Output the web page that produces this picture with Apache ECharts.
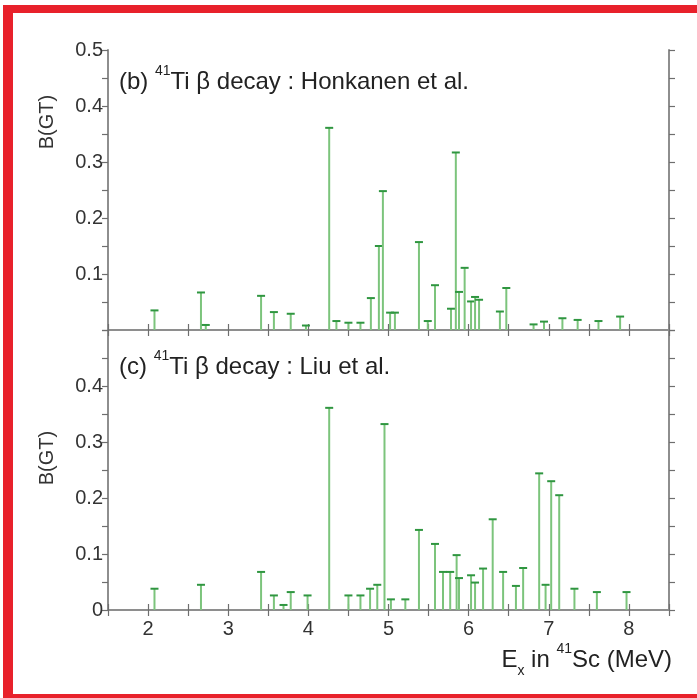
<!DOCTYPE html>
<html>
<head>
<meta charset="utf-8">
<style>
  html, body { margin: 0; padding: 0; background: #fff; }
  #chart { width: 697px; height: 698px; }
</style>
<script src="https://cdn.jsdelivr.net/npm/echarts@6/dist/echarts.min.js"></script>
</head>
<body>
<div id="chart"></div>
<script>
// Excitation energies in 41Sc (MeV) and B(GT) strengths, Honkanen et al.
const energyHonkanen = [2.08, 2.66, 2.72, 3.41, 3.57, 3.78, 3.97, 4.26, 4.35, 4.50,
  4.65, 4.78, 4.88, 4.93, 5.02, 5.08, 5.38, 5.49, 5.58, 5.78,
  5.84, 5.88, 5.95, 6.03, 6.08, 6.13, 6.39, 6.47, 6.81, 6.94,
  7.17, 7.36, 7.62, 7.89];
const bgtHonkanen = [0.035, 0.067, 0.009, 0.061, 0.032, 0.029, 0.008, 0.361, 0.016, 0.013,
  0.013, 0.057, 0.150, 0.248, 0.031, 0.031, 0.157, 0.016, 0.080, 0.038,
  0.317, 0.068, 0.111, 0.051, 0.059, 0.054, 0.033, 0.075, 0.010, 0.015,
  0.021, 0.018, 0.016, 0.024];

// Excitation energies and B(GT) strengths, Liu et al.
const energyLiu = [2.08, 2.66, 3.41, 3.57, 3.69, 3.78, 3.99, 4.26, 4.50, 4.65,
  4.77, 4.86, 4.95, 5.03, 5.21, 5.38, 5.58, 5.68, 5.77, 5.85,
  5.88, 6.03, 6.08, 6.18, 6.30, 6.43, 6.59, 6.68, 6.88, 6.96,
  7.03, 7.13, 7.32, 7.60, 7.97];
const bgtLiu = [0.038, 0.045, 0.068, 0.026, 0.009, 0.032, 0.026, 0.361, 0.026, 0.026,
  0.038, 0.045, 0.332, 0.019, 0.019, 0.143, 0.118, 0.068, 0.068, 0.098,
  0.057, 0.062, 0.049, 0.074, 0.162, 0.068, 0.043, 0.075, 0.244, 0.045,
  0.230, 0.205, 0.038, 0.032, 0.032];

// Axis ranges and tick labels
const energyRange = [1.5, 8.5];
const energyTickLabels = ['2', '3', '4', '5', '6', '7', '8'];
const bgtRange = [0, 0.5];
const bgtTicksTop = ['0.1', '0.2', '0.3', '0.4', '0.5'];
const bgtTicksBottom = ['0', '0.1', '0.2', '0.3', '0.4'];

const FONT = '"Liberation Sans", Arial, Helvetica, sans-serif';
const AXIS_GRAY = '#8e8e8e';
const TICK_GRAY = '#6e6e6e';
const STEM_GREEN = '#7cc47c';
const CAP_GREEN = '#2f9640';

const chart = echarts.init(document.getElementById('chart'), null, { renderer: 'canvas' });

function fmtLabel(list) {
  return function (v) {
    const s = String(Math.round(v * 1000) / 1000);
    return list.indexOf(s) >= 0 ? s : '';
  };
}

function xAxis(gridIndex, position, labels) {
  return {
    type: 'value', gridIndex, position,
    min: energyRange[0], max: energyRange[1], interval: 0.5,
    axisLine: { show: true, lineStyle: { color: AXIS_GRAY, width: 2 } },
    axisTick: { show: true, inside: false, length: 6, lineStyle: { color: TICK_GRAY, width: 1.2 } },
    axisLabel: labels ? {
      show: true, margin: 9, color: '#333', fontSize: 20, fontFamily: FONT,
      formatter: fmtLabel(energyTickLabels)
    } : { show: false },
    splitLine: { show: false }
  };
}

function yAxis(gridIndex, position, labels) {
  return {
    type: 'value', gridIndex, position,
    min: bgtRange[0], max: bgtRange[1], interval: 0.05,
    axisLine: { show: true, lineStyle: { color: AXIS_GRAY, width: 2 } },
    axisTick: { show: true, inside: false, length: 6, lineStyle: { color: TICK_GRAY, width: 1.2 } },
    axisLabel: labels ? {
      show: true, margin: 5, color: '#333', fontSize: 20, fontFamily: FONT,
      formatter: fmtLabel(labels)
    } : { show: false },
    splitLine: { show: false }
  };
}

// Vertical stem from zero up to the strength, topped with a short cap
function renderStem(params, api) {
  const base = api.coord([api.value(0), 0]);
  const top = api.coord([api.value(0), api.value(1)]);
  return {
    type: 'group',
    children: [
      { type: 'line', shape: { x1: base[0], y1: base[1], x2: top[0], y2: top[1] },
        style: { stroke: STEM_GREEN, lineWidth: 2 } },
      { type: 'line', shape: { x1: top[0] - 4, y1: top[1], x2: top[0] + 4, y2: top[1] },
        style: { stroke: CAP_GREEN, lineWidth: 2 } }
    ]
  };
}

const richLabel = {
  fontSize: 24, fontFamily: FONT, fontWeight: 'normal', color: '#222', lineHeight: 36,
  rich: {
    sup: { fontSize: 14, fontFamily: FONT, fontWeight: 'normal', color: '#222', lineHeight: 20, verticalAlign: 'top' },
    sub: { fontSize: 14, fontFamily: FONT, fontWeight: 'normal', color: '#222', lineHeight: 10, verticalAlign: 'bottom' }
  }
};

const option = {
  animation: false,
  backgroundColor: '#fff',
  grid: [
    { left: 108, right: 28, top: 50, height: 280 },
    { left: 108, right: 28, top: 330, height: 280 }
  ],
  xAxis: [
    xAxis(0, 'bottom', false),
    xAxis(0, 'top', false),
    xAxis(1, 'bottom', true),
    xAxis(1, 'top', false)
  ],
  yAxis: [
    yAxis(0, 'left', bgtTicksTop),
    yAxis(0, 'right', null),
    yAxis(1, 'left', bgtTicksBottom),
    yAxis(1, 'right', null)
  ],
  title: [
    { text: '(b) {sup|41}Ti β decay : Honkanen et al.', left: 119, top: 64, padding: 0, textStyle: richLabel },
    { text: '(c) {sup|41}Ti β decay : Liu et al.', left: 119, top: 349, padding: 0, textStyle: richLabel },
    { text: 'E{sub|x} in {sup|41}Sc (MeV)', right: 25, top: 642, padding: 0, textStyle: richLabel }
  ],
  graphic: [
    { type: 'text', x: 47, y: 122, rotation: Math.PI / 2,
      style: { text: 'B(GT)', font: '20px ' + FONT, fill: '#333', align: 'center', verticalAlign: 'middle' } },
    { type: 'text', x: 47, y: 458, rotation: Math.PI / 2,
      style: { text: 'B(GT)', font: '20px ' + FONT, fill: '#333', align: 'center', verticalAlign: 'middle' } },
    // red frame
    { type: 'rect', shape: { x: 3, y: 5, width: 694, height: 8 }, style: { fill: '#e8212b' } },
    { type: 'rect', shape: { x: 3, y: 5, width: 10, height: 693 }, style: { fill: '#e8212b' } },
    { type: 'rect', shape: { x: 3, y: 694, width: 694, height: 4 }, style: { fill: '#e8212b' } }
  ],
  series: [
    {
      type: 'custom', xAxisIndex: 0, yAxisIndex: 0, renderItem: renderStem, clip: false,
      encode: { x: 0, y: 1 },
      data: energyHonkanen.map((e, i) => [e, bgtHonkanen[i]])
    },
    {
      type: 'custom', xAxisIndex: 2, yAxisIndex: 2, renderItem: renderStem, clip: false,
      encode: { x: 0, y: 1 },
      data: energyLiu.map((e, i) => [e, bgtLiu[i]])
    }
  ]
};

chart.setOption(option);
</script>
</body>
</html>
